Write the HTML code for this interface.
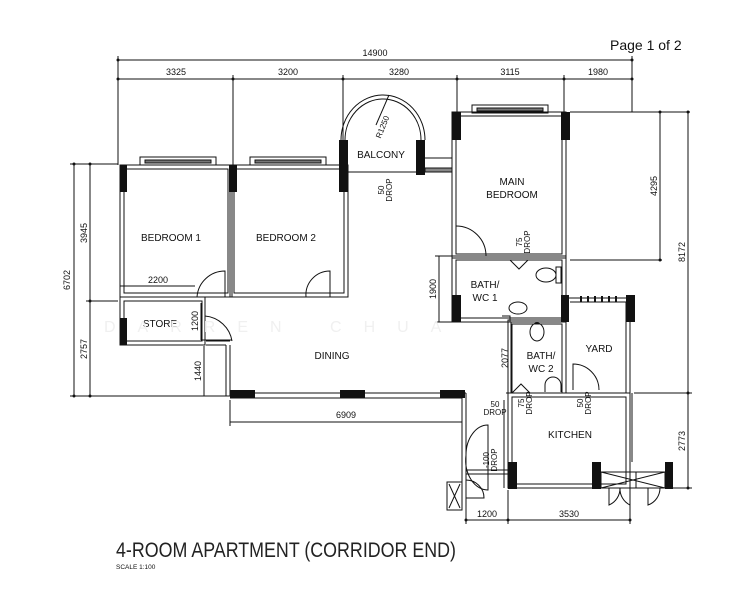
<!DOCTYPE html>
<html><head><meta charset="utf-8"><style>
html,body{margin:0;padding:0;background:#fff;}
svg{display:block;}
text{font-family:"Liberation Sans",sans-serif;fill:#111;}
</style></head><body>
<svg width="733" height="600" viewBox="0 0 733 600" xmlns="http://www.w3.org/2000/svg">
<rect width="733" height="600" fill="#fff"/>
<text x="610" y="50" font-size="14">Page 1 of 2</text>
<g stroke="#111" stroke-width="1" fill="none">
<line x1="118" y1="60" x2="632" y2="60"/>
<line x1="118" y1="79" x2="632" y2="79"/>
<line x1="118" y1="56" x2="118" y2="165"/>
<line x1="233" y1="75" x2="233" y2="165"/>
<line x1="343" y1="75" x2="343" y2="140"/>
<line x1="457" y1="75" x2="457" y2="112"/>
<line x1="564" y1="75" x2="564" y2="112"/>
<line x1="632" y1="56" x2="632" y2="112"/>
<line x1="74" y1="164" x2="74" y2="396"/>
<line x1="90" y1="164" x2="90" y2="396"/>
<line x1="70" y1="164" x2="118" y2="164"/>
<line x1="86" y1="301" x2="118" y2="301"/>
<line x1="70" y1="396" x2="232" y2="396"/>
<line x1="120" y1="286" x2="195" y2="286"/>
<line x1="201" y1="303" x2="201" y2="340"/>
<line x1="201" y1="340" x2="232" y2="340"/>
<line x1="204" y1="346" x2="204" y2="396"/>
<line x1="439" y1="256" x2="439" y2="322"/>
<line x1="435" y1="256" x2="452" y2="256"/>
<line x1="435" y1="322" x2="452" y2="322"/>
<line x1="570" y1="112" x2="690" y2="112"/>
<line x1="570" y1="260" x2="662" y2="260"/>
<line x1="660" y1="112" x2="660" y2="260"/>
<line x1="688" y1="112" x2="688" y2="488"/>
<line x1="634" y1="393" x2="692" y2="393"/>
<line x1="672" y1="488" x2="692" y2="488"/>
<line x1="511" y1="322" x2="511" y2="393"/>
<line x1="506" y1="393" x2="530" y2="393"/>
<line x1="230" y1="422" x2="462" y2="422"/>
<line x1="230" y1="400" x2="230" y2="426"/>
<line x1="466" y1="520" x2="630" y2="520"/>
<line x1="466" y1="490" x2="466" y2="524"/>
<line x1="508" y1="490" x2="508" y2="524"/>
<line x1="630" y1="490" x2="630" y2="524"/>
</g>
<g fill="#111">
<circle cx="118" cy="60" r="1.5"/><circle cx="632" cy="60" r="1.5"/>
<circle cx="118" cy="79" r="1.5"/><circle cx="233" cy="79" r="1.5"/><circle cx="343" cy="79" r="1.5"/><circle cx="457" cy="79" r="1.5"/><circle cx="564" cy="79" r="1.5"/><circle cx="632" cy="79" r="1.5"/>
<circle cx="74" cy="164" r="1.5"/><circle cx="90" cy="164" r="1.5"/><circle cx="90" cy="301" r="1.5"/><circle cx="74" cy="396" r="1.5"/><circle cx="90" cy="396" r="1.5"/>
<circle cx="660" cy="112" r="1.5"/><circle cx="660" cy="260" r="1.5"/><circle cx="688" cy="112" r="1.5"/><circle cx="688" cy="393" r="1.5"/><circle cx="688" cy="488" r="1.5"/>
<circle cx="466" cy="520" r="1.5"/><circle cx="508" cy="520" r="1.5"/><circle cx="630" cy="520" r="1.5"/>
</g>
<g font-size="9" text-anchor="middle">
<text x="375" y="56">14900</text>
<text x="176" y="75">3325</text><text x="288" y="75">3200</text><text x="399" y="75">3280</text><text x="510" y="75">3115</text><text x="598" y="75">1980</text>
<text x="158" y="283">2200</text>
<text x="346" y="418">6909</text>
<text x="487" y="517">1200</text>
<text x="569" y="517">3530</text>
<text transform="translate(70,280) rotate(-90)">6702</text>
<text transform="translate(87,233) rotate(-90)">3945</text>
<text transform="translate(87,349) rotate(-90)">2757</text>
<text transform="translate(198,321) rotate(-90)">1200</text>
<text transform="translate(201,371) rotate(-90)">1440</text>
<text transform="translate(436,289) rotate(-90)">1900</text>
<text transform="translate(508,358) rotate(-90)">2077</text>
<text transform="translate(657,186) rotate(-90)">4295</text>
<text transform="translate(685,252) rotate(-90)">8172</text>
<text transform="translate(685,441) rotate(-90)">2773</text>
</g>
<g stroke="#111" stroke-width="1" fill="none">
<rect x="120" y="165" width="112" height="132"/>
<rect x="124" y="169" width="104" height="124"/>
<rect x="120" y="297" width="85" height="48"/>
<rect x="124" y="301" width="78" height="40"/>
<rect x="230" y="165" width="118" height="132"/>
<rect x="234" y="169" width="110" height="124"/>
<line x1="206" y1="341" x2="230" y2="341"/><line x1="206" y1="345" x2="226" y2="345"/>
<line x1="226" y1="345" x2="226" y2="396"/><line x1="230" y1="345" x2="230" y2="396"/>
<rect x="140" y="157" width="76" height="8"/><rect x="145" y="160" width="66" height="3" fill="#777"/>
<rect x="250" y="157" width="76" height="8"/><rect x="255" y="160" width="66" height="3" fill="#777"/>
<line x1="127" y1="165" x2="140" y2="165"/><line x1="216" y1="165" x2="233" y2="165"/><line x1="326" y1="165" x2="340" y2="165"/>
<path d="M341,140 A42,45 0 0 1 425,140"/>
<path d="M345,140 A38,41 0 0 1 421,140"/>
<line x1="347" y1="172" x2="416" y2="172"/>
<line x1="376" y1="125" x2="389" y2="95"/>
<line x1="425" y1="158" x2="452" y2="158"/><line x1="425" y1="168" x2="452" y2="168"/>
<rect x="425" y="168" width="27" height="4" fill="#888"/>
<rect x="452" y="112" width="114" height="146"/>
<rect x="456" y="116" width="106" height="138"/>
<rect x="472" y="105" width="76" height="8"/><rect x="477" y="108" width="66" height="3" fill="#777"/>
<rect x="452" y="256" width="114" height="66"/>
<rect x="456" y="260" width="106" height="58"/>
<ellipse cx="546" cy="275" rx="10" ry="7"/>
<rect x="556" y="267" width="5" height="16"/>
<ellipse cx="518" cy="308" rx="9" ry="6"/>
<path d="M510,322 V316 H502"/>
<path d="M510,260 L519,269 L528,260"/>
<rect x="508" y="320" width="58" height="73"/>
<rect x="512" y="324" width="50" height="69"/>
<ellipse cx="537" cy="332" rx="7" ry="9"/>
<path d="M545,392 V385 A8,8 0 0 1 561,385 V392"/>
<path d="M512,393 L521,384 L530,393"/>
<path d="M566,298 H630 V462"/><path d="M570,302 H626 V393"/>
<line x1="570" y1="393" x2="626" y2="393"/>
<path d="M573,390 V364 A26,26 0 0 1 599,390"/>
<g stroke-width="2"><line x1="581" y1="296" x2="581" y2="302"/><line x1="588" y1="296" x2="588" y2="302"/><line x1="595" y1="296" x2="595" y2="302"/><line x1="602" y1="296" x2="602" y2="302"/><line x1="609" y1="296" x2="609" y2="302"/><line x1="616" y1="296" x2="616" y2="302"/></g>
<rect x="508" y="393" width="122" height="95"/>
<rect x="512" y="397" width="114" height="87"/>
<rect x="601" y="472" width="64" height="16"/>
<path d="M601,472 L665,488 M601,488 L665,472"/>
<path d="M609,488 V505 A18,18 0 0 0 620,488"/>
<path d="M630,488 V505 A18,18 0 0 1 620,488"/>
<path d="M648,488 V505 A18,18 0 0 0 660,488"/>
<line x1="636" y1="472" x2="636" y2="488"/>
<line x1="632" y1="393" x2="632" y2="462"/><line x1="672" y1="472" x2="672" y2="488"/>
<line x1="230" y1="393" x2="466" y2="393"/><line x1="230" y1="398" x2="462" y2="398"/>
<line x1="466" y1="393" x2="466" y2="495"/><line x1="462" y1="398" x2="462" y2="495"/>
<path d="M466,455 A22,30 0 0 1 488,425 V490 A22,30 0 0 1 466,455"/>
<line x1="466" y1="470" x2="508" y2="470"/><line x1="466" y1="474" x2="508" y2="474"/>
<line x1="508" y1="400" x2="508" y2="462"/><line x1="504" y1="400" x2="504" y2="488"/>
<rect x="447" y="482" width="15" height="28"/>
<path d="M449,484 L460,508 M460,484 L449,508"/>
<path d="M466,480 A18,18 0 0 1 484,498 H466"/>
<path d="M456,226 A30,30 0 0 1 486,256"/>
<path d="M197,297 A28,28 0 0 1 225,271 V297"/>
<path d="M306,297 A24,24 0 0 1 330,271 V297"/>
<path d="M205,316 A30,30 0 0 1 232,341"/>
</g>
<g fill="#111">
<rect x="120" y="165" width="7" height="27"/>
<rect x="229" y="165" width="8" height="27"/>
<rect x="339" y="140" width="9" height="52"/>
<rect x="416" y="140" width="9" height="35"/>
<rect x="452" y="112" width="9" height="28"/>
<rect x="561" y="112" width="9" height="28"/>
<rect x="120" y="318" width="7" height="27"/>
<rect x="452" y="295" width="9" height="27"/>
<rect x="561" y="295" width="8" height="27"/>
<rect x="626" y="295" width="9" height="27"/>
<rect x="230" y="390" width="25" height="8"/>
<rect x="340" y="390" width="25" height="8"/>
<rect x="440" y="390" width="25" height="8"/>
<rect x="508" y="462" width="9" height="27"/>
<rect x="592" y="462" width="9" height="27"/>
<rect x="665" y="462" width="8" height="27"/>
</g>
<g font-size="10" text-anchor="middle">
<text x="171" y="241">BEDROOM 1</text>
<text x="286" y="241">BEDROOM 2</text>
<text x="381" y="158">BALCONY</text>
<text x="512" y="185">MAIN</text><text x="512" y="198">BEDROOM</text>
<text x="485" y="288">BATH/</text><text x="485" y="301">WC 1</text>
<text x="160" y="327">STORE</text>
<text x="332" y="359">DINING</text>
<text x="541" y="359">BATH/</text><text x="541" y="372">WC 2</text>
<text x="599" y="352">YARD</text>
<text x="570" y="438">KITCHEN</text>
</g>
<g font-size="8" text-anchor="middle">
<text transform="translate(385,128) rotate(-68)">R1250</text>
<text transform="translate(384,190) rotate(-90)">50</text><text transform="translate(392,190) rotate(-90)">DROP</text>
<text transform="translate(522,242) rotate(-90)">75</text><text transform="translate(530,242) rotate(-90)">DROP</text>
<text x="495" y="407">50</text><text x="495" y="415">DROP</text>
<text transform="translate(524,403) rotate(-90)">75</text><text transform="translate(532,403) rotate(-90)">DROP</text>
<text transform="translate(583,403) rotate(-90)">50</text><text transform="translate(591,403) rotate(-90)">DROP</text>
<text transform="translate(489,460) rotate(-90)">-100</text><text transform="translate(497,460) rotate(-90)">DROP</text>
</g>
<text x="104" y="332" font-size="16" letter-spacing="22" style="fill:#f0f0f0">DARREN  CHUA</text>
<text x="116" y="557" font-size="21" textLength="340" lengthAdjust="spacingAndGlyphs" style="fill:#222">4-ROOM APARTMENT (CORRIDOR END)</text>
<text x="116" y="569" font-size="6.5">SCALE 1:100</text>
</svg>
</body></html>
